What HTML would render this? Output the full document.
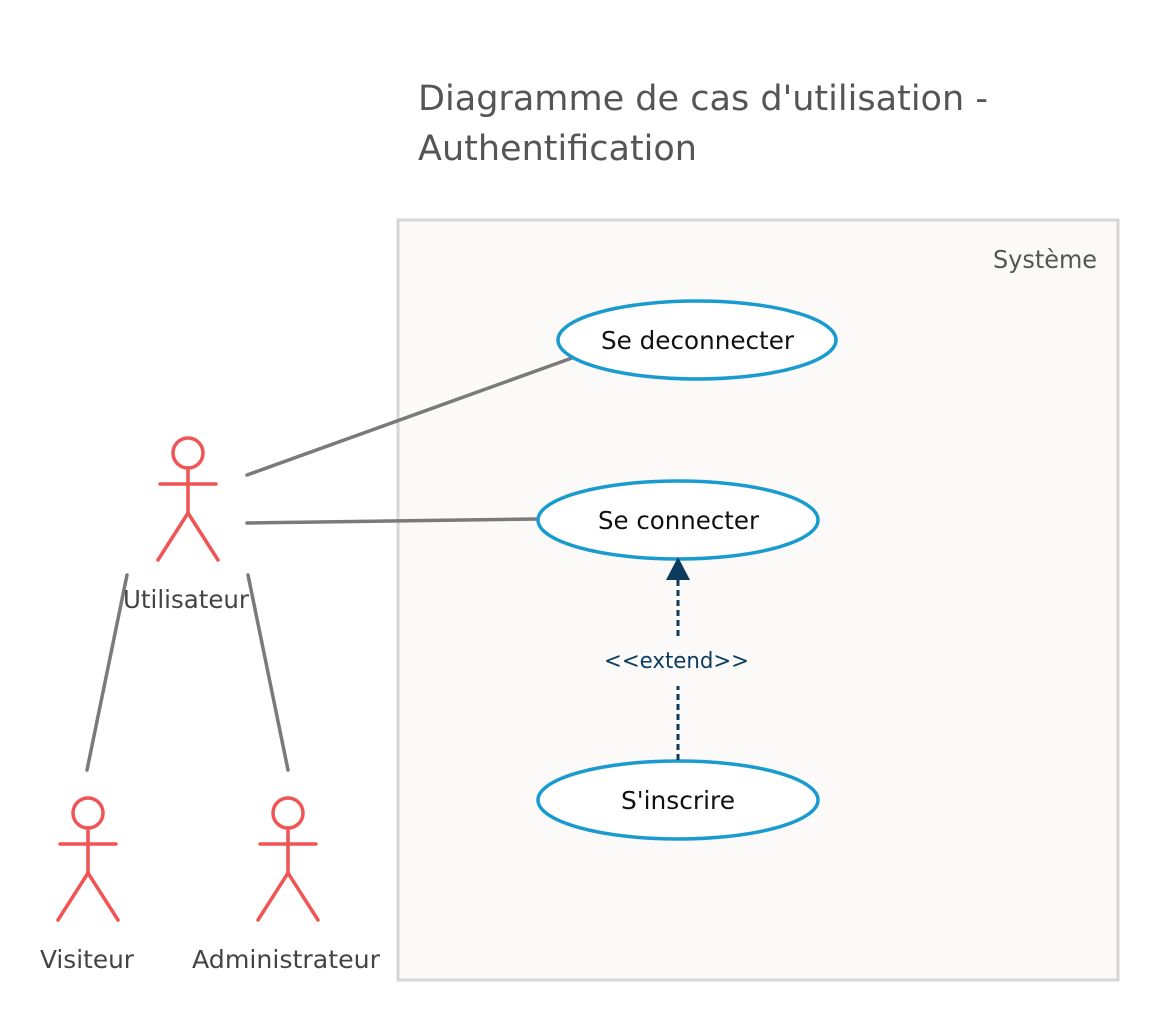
<!DOCTYPE html>
<html><head><meta charset="utf-8"><style>
html,body{margin:0;padding:0;background:#fff;}
svg{display:block;font-family:"DejaVu Sans","Liberation Sans",sans-serif;}
</style></head><body>
<svg width="1158" height="1021" viewBox="0 0 1158 1021" xmlns="http://www.w3.org/2000/svg">
<rect width="1158" height="1021" fill="#fff"/>
<text x="418" y="110" font-size="35" fill="#555" textLength="570" lengthAdjust="spacingAndGlyphs">Diagramme de cas d'utilisation -</text>
<text x="418" y="160" font-size="35" fill="#555" textLength="279" lengthAdjust="spacingAndGlyphs">Authentification</text>
<rect x="398" y="220" width="720" height="760" fill="#fbfaf9" stroke="#d6d6d6" stroke-width="3"/>
<text x="993" y="268" font-size="25" fill="#555" textLength="104" lengthAdjust="spacingAndGlyphs">Système</text>
<g stroke="#7a7a7a" stroke-width="3.5" stroke-linecap="round">
<line x1="247" y1="475" x2="572" y2="358"/>
<line x1="247" y1="523" x2="537" y2="519"/>
<line x1="127" y1="575" x2="87" y2="770"/>
<line x1="248" y1="575" x2="288" y2="770"/>
</g>
<g fill="#fff" stroke="#1a9bd0" stroke-width="3.5">
<ellipse cx="697" cy="340" rx="139" ry="39"/>
<ellipse cx="678" cy="520" rx="140" ry="39"/>
<ellipse cx="678" cy="800" rx="140" ry="39"/>
</g>
<g font-size="25" fill="#111">
<text x="601" y="349" textLength="193" lengthAdjust="spacingAndGlyphs">Se deconnecter</text>
<text x="598" y="529" textLength="161" lengthAdjust="spacingAndGlyphs">Se connecter</text>
<text x="621" y="809" textLength="114" lengthAdjust="spacingAndGlyphs">S'inscrire</text>
</g>
<g stroke="#0d3b5e" stroke-width="3" stroke-dasharray="6,4">
<line x1="678" y1="760" x2="678" y2="686"/>
<line x1="678" y1="636" x2="678" y2="580"/>
</g>
<polygon points="678,557 666,580 690,580" fill="#0d3b5e"/>
<text x="604" y="668" font-size="22" fill="#0d3b5e" textLength="145" lengthAdjust="spacingAndGlyphs">&lt;&lt;extend&gt;&gt;</text>
<g stroke="#f05454" stroke-width="3.5" fill="none" stroke-linecap="round">
<circle cx="188" cy="453" r="15"/>
<line x1="188" y1="468" x2="188" y2="513"/>
<line x1="160" y1="484" x2="216" y2="484"/>
<line x1="188" y1="513" x2="158" y2="560"/>
<line x1="188" y1="513" x2="218" y2="560"/>
<circle cx="88" cy="813" r="15"/>
<line x1="88" y1="828" x2="88" y2="873"/>
<line x1="60" y1="844" x2="116" y2="844"/>
<line x1="88" y1="873" x2="58" y2="920"/>
<line x1="88" y1="873" x2="118" y2="920"/>
<circle cx="288" cy="813" r="15"/>
<line x1="288" y1="828" x2="288" y2="873"/>
<line x1="260" y1="844" x2="316" y2="844"/>
<line x1="288" y1="873" x2="258" y2="920"/>
<line x1="288" y1="873" x2="318" y2="920"/>
</g>
<g font-size="25" fill="#444">
<text x="123" y="608" textLength="126" lengthAdjust="spacingAndGlyphs">Utilisateur</text>
<text x="40" y="968" textLength="94" lengthAdjust="spacingAndGlyphs">Visiteur</text>
<text x="192" y="968" textLength="188" lengthAdjust="spacingAndGlyphs">Administrateur</text>
</g>
</svg>
</body></html>
